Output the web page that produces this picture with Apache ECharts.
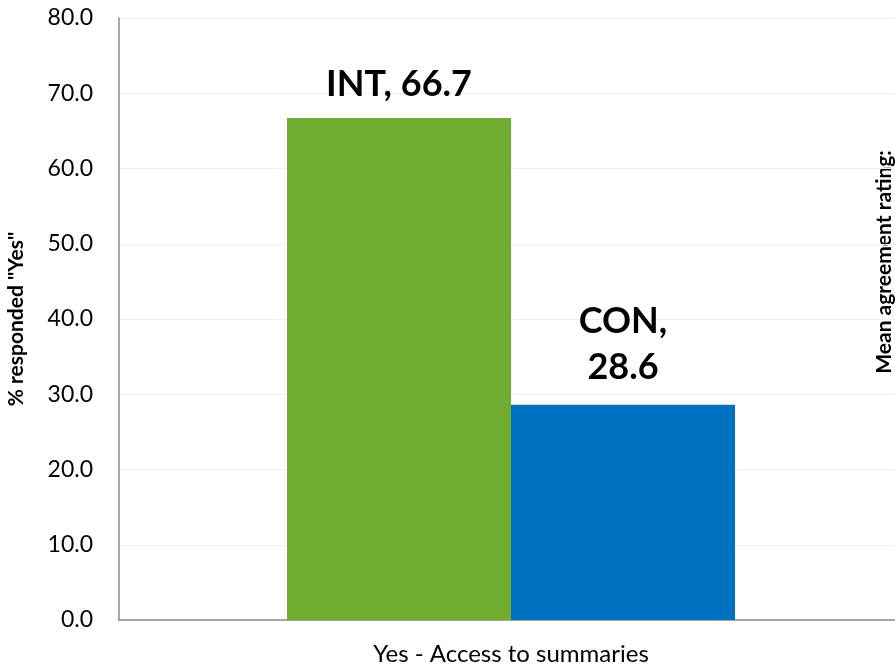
<!DOCTYPE html>
<html>
<head>
<meta charset="utf-8">
<script src="https://cdn.jsdelivr.net/npm/echarts@6/dist/echarts.min.js"></script>
<style>
  html, body { margin: 0; padding: 0; background: #ffffff; }
  #chart { width: 895px; height: 665px; }
</style>
</head>
<body>
<div id="chart"></div>
<script>
// Categories, groups and values
const categories = ['Yes - Access to summaries'];
const groupNames = ['INT', 'CON'];
const intValues = [66.7];
const conValues = [28.6];
const yTicks = { min: 0, max: 80, interval: 10 };

const FONT = 'Lato, "Open Sans", sans-serif';

const chart = echarts.init(document.getElementById('chart'), null, { renderer: 'canvas' });

chart.setOption({
  animation: false,
  backgroundColor: '#ffffff',
  // plot area runs slightly past the right edge of the canvas
  grid: { left: 119, top: 18, width: 784, height: 602, containLabel: false, outerBoundsMode: 'none' },
  xAxis: {
    type: 'category',
    data: categories,
    axisLine: { show: true, lineStyle: { color: '#8c8c8c', width: 1.5 } },
    axisTick: { show: false },
    axisLabel: { color: '#000000', fontSize: 24, fontFamily: FONT, margin: 22 }
  },
  yAxis: {
    type: 'value',
    min: yTicks.min,
    max: yTicks.max,
    interval: yTicks.interval,
    name: '% responded "Yes"',
    nameLocation: 'middle',
    nameGap: 92,
    nameRotate: 90,
    nameTextStyle: { color: '#000000', fontSize: 21, fontWeight: 'bold', fontFamily: FONT },
    axisLine: { show: true, lineStyle: { color: '#8c8c8c', width: 1.5 } },
    axisTick: { show: false },
    splitLine: { show: true, lineStyle: { color: '#efefef', width: 1 } },
    axisLabel: {
      color: '#000000', fontSize: 23, fontFamily: FONT, margin: 26,
      formatter: v => v.toFixed(1)
    }
  },
  graphic: [{
    type: 'text',
    x: 884,
    y: 262,
    rotation: Math.PI / 2,
    style: {
      text: 'Mean agreement rating:',
      font: 'bold 21px ' + FONT,
      fill: '#000000',
      align: 'center',
      verticalAlign: 'middle'
    }
  }],
  series: [
    {
      name: groupNames[0],
      type: 'bar',
      data: intValues,
      barWidth: 224,
      barGap: '0%',
      itemStyle: { color: '#6FAC2F' },
      label: {
        show: true,
        position: 'top',
        distance: 16,
        formatter: p => p.seriesName + ', ' + p.value.toFixed(1),
        color: '#000000',
        fontSize: 36,
        fontWeight: 'bold',
        fontFamily: FONT
      }
    },
    {
      name: groupNames[1],
      type: 'bar',
      data: conValues,
      barWidth: 224,
      barGap: '0%',
      itemStyle: { color: '#0070C0' },
      label: {
        show: true,
        position: 'top',
        distance: 14,
        formatter: p => p.seriesName + ',\n' + p.value.toFixed(1),
        color: '#000000',
        fontSize: 36,
        lineHeight: 46,
        fontWeight: 'bold',
        fontFamily: FONT,
        align: 'center'
      }
    }
  ]
});
</script>
</body>
</html>
